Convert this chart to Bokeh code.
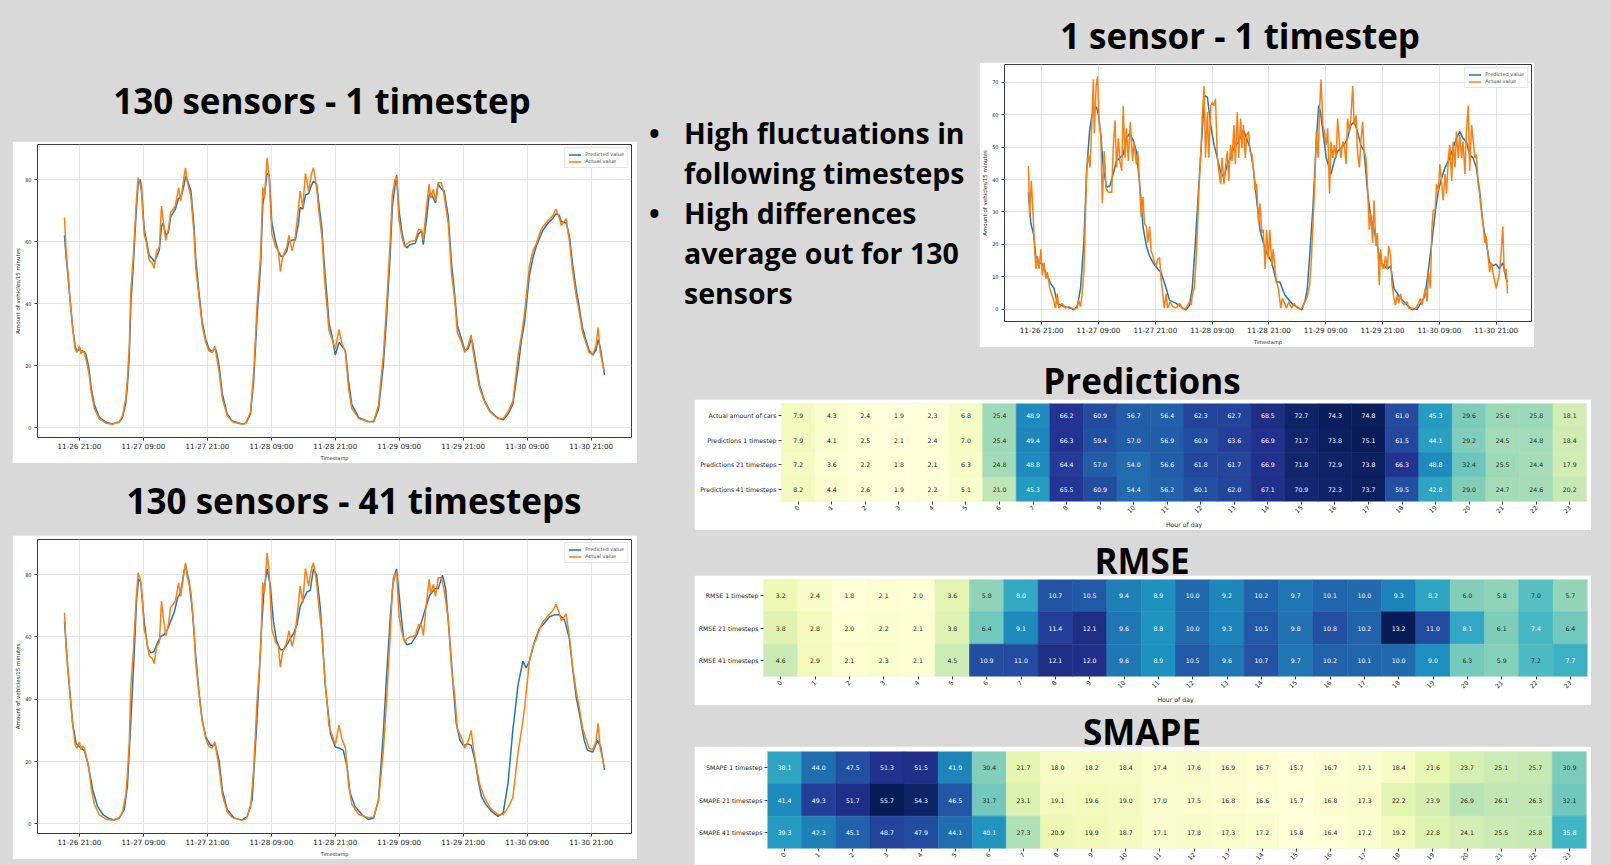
import numpy as np
import pandas as pd
from bokeh.plotting import figure
from bokeh.layouts import row, column
from bokeh.models import (Div, Spacer, FixedTicker, SingleIntervalTicker, DatetimeTickFormatter,
                          ColumnDataSource, LinearColorMapper, FactorRange)
from bokeh.transform import transform
from bokeh.core.properties import value
from bokeh.palettes import YlGnBu9
from bokeh.embed import file_html
from bokeh.resources import INLINE

# ---------------------------------------------------------------- data
TS_BASE = "2022-11-26 21:00"          # hour offsets below are relative to this
X_TICK_LABELS = ["11-26 21:00", "11-27 09:00", "11-27 21:00", "11-28 09:00", "11-28 21:00",
                 "11-29 09:00", "11-29 21:00", "11-30 09:00", "11-30 21:00"]

# (hour offset, vehicles / 15 min) - mean over 130 sensors, actual value
ACTUAL_130 = [(-2.8, 67.8), (-2.5, 57), (-2.2, 51), (-1.9, 44.5), (-1.6, 38), (-1.25, 31.7), (-0.8, 25.4),
              (-0.5, 24.3), (0, 26.3), (0.3, 23.8), (0.6, 25), (0.9, 24.3), (1.25, 22), (1.75, 18), (2.2, 11.6),
              (2.8, 6.3), (3.7, 3), (5, 1.5), (6.2, 1.2), (7.5, 2), (8.1, 4), (8.7, 9.5), (9, 15.8), (9.35, 26.4),
              (9.65, 44.5), (10.1, 55), (10.6, 71), (11, 80.6), (11.4, 78.5), (11.65, 75.8), (12.15, 62.5),
              (12.5, 60), (13.1, 54), (13.7, 53), (14, 51.4), (14.5, 57), (15, 58.3), (15.4, 71.5), (15.7, 66.8),
              (16.2, 60.4), (16.7, 64), (17.1, 69.4), (18, 71.5), (18.6, 77.4), (19, 73), (19.6, 80.6),
              (19.9, 83.8), (20.2, 79.5), (20.9, 74.7), (21.5, 62.5), (21.8, 52), (22.4, 42.4), (23.05, 32.8),
              (23.7, 27.5), (24.3, 24.8), (24.9, 24.3), (25.4, 26.4), (25.7, 23.2), (26.2, 18), (26.8, 9.5),
              (27.7, 4), (28.7, 2), (30.5, 1.2), (31.2, 1.5), (32.1, 5.2), (32.7, 18), (33.3, 39), (34, 56),
              (34.4, 77.4), (34.7, 74), (35.2, 87), (35.6, 80.6), (36.1, 62.5), (36.8, 58.3), (37.3, 57.2),
              (37.7, 50.3), (38.1, 55), (38.9, 58.3), (39.3, 62), (39.9, 57), (40.5, 61.6), (41.1, 71),
              (41.4, 76.3), (41.9, 71), (42.4, 82), (43, 76.3), (43.5, 81.6), (43.9, 83.8), (44.5, 77.4),
              (44.9, 70), (45.5, 61.5), (45.8, 53), (46.1, 45.5), (46.5, 38), (46.8, 31.5), (47.4, 28.5),
              (48, 25.4), (48.7, 31.7), (49.2, 27.5), (49.9, 24.3), (50.5, 12.6), (51.1, 6.3), (52.4, 3),
              (54.2, 2), (55.2, 2.2), (56.1, 7.3), (57, 23.2), (57.6, 39), (58.3, 60.4), (58.7, 75.2), (59.2, 80),
              (59.5, 81), (59.95, 66.8), (60.5, 61.5), (61, 58.3), (61.4, 59.3), (62, 60), (63, 60.4), (63.6, 64),
              (64.2, 63.6), (64.5, 60.4), (65.1, 71), (65.6, 78.5), (65.9, 74), (66.4, 76.9), (66.8, 73),
              (67.3, 79), (67.9, 79), (68.4, 75.2), (69.2, 65.7), (69.8, 49.8), (70.4, 41.3), (70.9, 30.7),
              (71.7, 27.5), (72.3, 24.3), (72.9, 26.4), (73.5, 30), (73.8, 25.4), (74.5, 18), (75.1, 12.6),
              (76, 8.4), (77, 5.2), (78.5, 3), (79.5, 3), (80.4, 5.2), (81.3, 8.4), (82.3, 23.2), (82.9, 29.6),
              (83.5, 37), (84.4, 52), (85.1, 57.2), (85.7, 59.3), (86.3, 62.5), (86.9, 64.7), (87.9, 66.8),
              (88.8, 68.4), (89.4, 70.5), (90, 67.8), (90.4, 65.2), (91.3, 67.4), (91.9, 60.4), (92.5, 50.8),
              (93.2, 42.4), (93.8, 37), (94.4, 30.7), (95, 27.5), (95.6, 24.3), (96.3, 23.8), (96.9, 26.4),
              (97.3, 32.3), (97.7, 24.3), (98.1, 21), (98.5, 18)]

# mean over 130 sensors, predicted 1 timestep ahead
PRED_130_1 = [(-2.8, 62), (-2.5, 55), (-2.2, 50), (-1.9, 44), (-1.6, 38.5), (-1.25, 32), (-0.8, 26.5),
              (-0.5, 24.8), (0, 25.2), (0.3, 24.8), (0.6, 24.5), (0.9, 24.6), (1.25, 23.5), (1.75, 19.5),
              (2.2, 13), (2.8, 7.5), (3.7, 3.5), (5, 1.8), (6.2, 1.3), (7.5, 1.9), (8.1, 3.5), (8.7, 8), (9, 13.5),
              (9.35, 23), (9.65, 40), (10.1, 52), (10.6, 68), (11, 78.5), (11.4, 80), (11.65, 77.5), (12.15, 64),
              (12.5, 61), (13.1, 55.5), (13.7, 54.5), (14, 53.5), (14.5, 55), (15, 57.5), (15.4, 65), (15.7, 66),
              (16.2, 62), (16.7, 63), (17.1, 68), (18, 70.5), (18.6, 74), (19, 74), (19.6, 78), (19.9, 81),
              (20.2, 80), (20.9, 76.5), (21.5, 65), (21.8, 55), (22.4, 44), (23.05, 34), (23.7, 28.5),
              (24.3, 25.5), (24.9, 24.5), (25.4, 25.5), (25.7, 24.8), (26.2, 20), (26.8, 11), (27.7, 4.5),
              (28.7, 2.2), (30.5, 1.3), (31.2, 1.4), (32.1, 4.5), (32.7, 15.5), (33.3, 35), (34, 53), (34.4, 72),
              (34.7, 75), (35.2, 82), (35.6, 81.5), (36.1, 66), (36.8, 60), (37.3, 57), (37.7, 55.5), (38.1, 55),
              (38.9, 57), (39.3, 60), (39.9, 60.5), (40.5, 60.5), (41.1, 66), (41.4, 71), (41.9, 70.5),
              (42.4, 75), (43, 75.5), (43.5, 78), (43.9, 79.5), (44.5, 78.5), (44.9, 72.5), (45.5, 64),
              (45.8, 56), (46.1, 49), (46.5, 41), (46.8, 34), (47.4, 29.5), (48, 23.5), (48.7, 27.5),
              (49.2, 26.5), (49.9, 24.8), (50.5, 15), (51.1, 7.5), (52.4, 3.3), (54.2, 2.1), (55.2, 2), (56.1, 6),
              (57, 20), (57.6, 35), (58.3, 56), (58.7, 71), (59.2, 78), (59.5, 81.5), (59.95, 70), (60.5, 63),
              (61, 59), (61.4, 58), (62, 59), (63, 59.5), (63.6, 62.5), (64.2, 63.5), (64.5, 59), (65.1, 67),
              (65.6, 75), (65.9, 75.5), (66.4, 74), (66.8, 72.5), (67.3, 78.5), (67.9, 77), (68.4, 76.5),
              (69.2, 68), (69.8, 53), (70.4, 43), (70.9, 33), (71.7, 28.5), (72.3, 25), (72.9, 25.5),
              (73.5, 28.5), (73.8, 27), (74.5, 19.5), (75.1, 13.5), (76, 8.8), (77, 5.5), (78.5, 3.2),
              (79.5, 2.6), (80.4, 4.5), (81.3, 7.5), (82.3, 19.5), (82.9, 28), (83.5, 34), (84.4, 49), (85.1, 55),
              (85.7, 58.5), (86.3, 61), (86.9, 63.5), (87.9, 66), (88.8, 67.5), (89.4, 69), (90, 68.5),
              (90.4, 66.5), (91.3, 66), (91.9, 62), (92.5, 53), (93.2, 44.5), (93.8, 38.5), (94.4, 32),
              (95, 28.5), (95.6, 25), (96.3, 23.5), (96.9, 25), (97.3, 28.5), (97.7, 26), (98.1, 21.5), (98.5, 17)]

# mean over 130 sensors, predicted 41 timesteps ahead
PRED_130_41 = [(-2.8, 65), (-2.2, 50), (-1.25, 32), (-0.6, 25.7), (0, 24.7), (0.9, 23.6), (1.6, 19.4),
               (2.5, 10.9), (3.4, 5.6), (4.4, 3), (5.6, 1.7), (6.5, 1.2), (7.5, 1.9), (8.4, 4.6), (9, 12),
               (9.65, 33), (10.3, 55.4), (10.7, 71.3), (11.1, 78.7), (11.5, 77.6), (12.15, 65), (12.8, 56.5),
               (13.4, 54.9), (14, 55.4), (14.6, 58), (15.3, 60.2), (15.9, 60.7), (16.5, 62.3), (17.1, 65),
               (17.8, 68.1), (18.4, 72.4), (19, 74.5), (19.6, 80.8), (19.9, 83), (20.6, 77.6), (21.2, 68.1),
               (21.8, 54.3), (22.4, 42.7), (23.05, 33.2), (23.7, 27.9), (24.6, 25.2), (25.5, 25.2), (26.2, 20.4),
               (26.8, 10.9), (27.7, 4.6), (29, 1.9), (30.5, 1.2), (31.5, 2.4), (32.4, 7.7), (33.3, 33),
               (34.1, 60.7), (34.6, 74.5), (35.2, 81.9), (35.8, 76.6), (36.4, 65), (37, 58.6), (37.7, 55.9),
               (38.3, 55.9), (38.9, 57.5), (39.6, 59.6), (40.2, 61.2), (40.8, 63.9), (41.4, 69.7), (42.1, 72.4),
               (42.7, 74.5), (43.3, 75), (43.9, 81.9), (44.5, 79.8), (45.2, 69.2), (46.1, 44.8), (47.1, 28.9),
               (48, 24.7), (48.9, 24.2), (49.5, 23.6), (50.2, 18.3), (50.8, 9.8), (51.7, 5.6), (53, 3),
               (54.2, 1.4), (55.2, 1.9), (56.1, 7.7), (57, 28.9), (57.6, 46.9), (58.3, 66), (58.9, 78.7),
               (59.5, 81.9), (60.1, 71.3), (60.8, 59.6), (61.4, 57.5), (62.3, 58), (63.3, 60.7), (64.2, 65),
               (65.1, 70.2), (65.7, 73.4), (66.7, 75.5), (67.3, 75.5), (68.1, 79.8), (68.7, 75.5), (69.5, 58.6),
               (70.1, 44.8), (70.7, 32.1), (71.4, 26.8), (72, 25.2), (72.9, 25.7), (73.5, 25.2), (74.2, 20.4),
               (74.8, 14.1), (75.4, 8.8), (76.3, 6.1), (77.3, 4), (78.5, 2.4), (79.5, 3.5), (80.4, 13),
               (81.3, 30), (82.3, 44.8), (83.2, 52.2), (83.8, 50.1), (84.4, 52.2), (85.4, 58.6), (86.3, 62.8),
               (87.2, 64.4), (88.2, 66.5), (89.1, 67.1), (90, 67.1), (91, 65.5), (91.9, 59.6), (92.5, 50.1),
               (93.2, 40.6), (93.8, 35.3), (94.7, 26.8), (95.3, 23.6), (96.3, 23.1), (97.2, 26.8), (97.8, 24.7),
               (98.5, 17.3)]

# single sensor, actual value
ACTUAL_1S = [(-2.8, 44.2), (-2.55, 28.5), (-2.2, 39.6), (-1.8, 28.5), (-1.5, 18.5), (-1.2, 12.4), (-0.9, 16.4),
             (-0.55, 12.4), (-0.2, 18.5), (0.14, 10.4), (0.5, 14.4), (0.85, 9.4), (1.2, 11.4), (1.7, 6.4),
             (2.2, 4.3), (2.6, 2.3), (2.9, 0.3), (3.3, 4.8), (3.6, 0.3), (4.3, 1.8), (5, 0.3), (5.7, 0.8), (6.8, 0),
             (7.5, 0.3), (7.8, 2.8), (8.2, 0.8), (8.5, 4.3), (8.9, 11.4), (9.2, 26.5), (9.5, 43.7), (9.9, 47.7),
             (10.2, 43.7), (10.6, 57.8), (10.9, 70.9), (11.1, 54.3), (11.5, 68.9), (11.8, 71.9), (12.1, 58.8),
             (12.5, 52.7), (12.8, 32.6), (13.2, 48.7), (13.6, 37.1), (14.1, 36.1), (14.8, 36.1), (15.1, 49.7),
             (15.5, 58.3), (15.8, 43.7), (16.2, 52.7), (16.5, 45.7), (16.9, 42.7), (17.2, 62.8), (17.6, 46.7),
             (17.9, 55.8), (18.3, 45.7), (18.7, 57.8), (19.2, 45.7), (19.5, 51.7), (20, 44.7), (20.3, 48.7),
             (20.7, 37.6), (21, 28.5), (21.4, 34.6), (21.7, 26.5), (22.1, 25.5), (22.4, 20.5), (22.8, 25.5),
             (23.1, 18), (23.5, 16.4), (23.8, 14.4), (24.2, 13.4), (24.5, 15.4), (24.9, 15.9), (25.2, 9.4),
             (25.6, 4.3), (25.9, 0.3), (26.3, 4.8), (26.6, 0.3), (27.1, 2.3), (27.7, 0.8), (28.4, 0.3),
             (29.1, 1.8), (29.8, 0), (30.5, 0.3), (31.2, 2.3), (31.6, 1.3), (31.8, 4.3), (32.2, 6.4), (32.5, 12.4),
             (32.9, 24.5), (33.2, 36.6), (33.6, 47.7), (33.9, 58.8), (34.3, 68.9), (34.6, 46.7), (35, 60.8),
             (35.3, 46.7), (35.7, 62.8), (36, 63.8), (36.4, 62.8), (36.7, 64.9), (37.1, 46.7), (37.4, 42.7),
             (37.8, 38.6), (38.1, 46.7), (38.5, 38.6), (38.8, 43.7), (39.2, 48.7), (39.5, 39.6), (39.9, 50.7),
             (40.2, 45.7), (40.6, 56.8), (40.9, 44.7), (41.3, 60.8), (41.6, 46.7), (42, 58.8), (42.3, 49.7),
             (42.6, 56.8), (43, 46.7), (43.3, 53.8), (43.7, 54.8), (44, 48.7), (44.4, 47.7), (44.7, 43.7),
             (45.1, 36.6), (45.4, 38.6), (45.8, 26.5), (46.1, 32.6), (46.5, 23.5), (46.8, 24.5), (47.2, 12.4),
             (47.5, 24.5), (47.9, 15.4), (48.2, 24.5), (48.6, 13.4), (48.9, 18.5), (49.3, 12), (49.6, 8.4),
             (50, 6.4), (50.5, 0.3), (50.8, 3.3), (51.2, 2.3), (51.7, 0.3), (52.2, 2.3), (52.8, 0.3), (53.3, 1.8),
             (53.8, 0.8), (54.5, 0), (54.9, 0.3), (55.6, 2.3), (56.1, 3.8), (56.6, 7.4), (57, 16.4), (57.3, 26.5),
             (57.7, 39.6), (58, 54.8), (58.4, 46.7), (58.7, 61.8), (59, 70.9), (59.4, 56.8), (59.7, 54.8),
             (60.1, 50.7), (60.4, 55.8), (60.8, 35.6), (61.1, 51.7), (61.5, 46.7), (61.8, 50.7), (62.2, 46.7),
             (62.5, 58.8), (62.9, 50.7), (63.2, 46.7), (63.6, 51.7), (63.9, 50.7), (64.3, 44.7), (64.6, 58.8),
             (65, 54.8), (65.3, 58.8), (65.7, 68.9), (66, 56.8), (66.4, 59.8), (66.7, 48.7), (67.1, 43.7),
             (67.4, 51.7), (67.8, 57.8), (68.1, 48.7), (68.5, 46.7), (68.8, 38.6), (69.2, 24.5), (69.5, 29.6),
             (69.9, 20.5), (70.2, 33.6), (70.6, 19.5), (70.9, 23.5), (71.3, 7.4), (71.6, 18.5), (71.9, 13.4),
             (72.3, 12.4), (72.6, 16.4), (73, 12.4), (73.3, 19.5), (73.7, 16.4), (74, 7.4), (74.4, 3.3),
             (74.7, 1.3), (75.1, 4.3), (75.4, 1.8), (75.8, 4.8), (76.1, 2.3), (76.5, 1.3), (77.2, 2.3),
             (77.5, 0.3), (78.2, 0.3), (78.9, 0), (79.6, 1.8), (80, 3.3), (80.3, 1.3), (80.7, 3.8), (81, 6.4),
             (81.4, 2.3), (81.7, 11.4), (82.1, 6.4), (82.4, 24.5), (82.7, 30.6), (83.1, 30.6), (83.4, 38.6),
             (83.8, 36.6), (84.1, 44.7), (84.5, 38.6), (84.8, 33.6), (85.2, 41.7), (85.5, 35.6), (85.9, 46.7),
             (86.2, 50.7), (86.6, 39.6), (86.9, 51.7), (87.3, 43.7), (87.6, 54.8), (88, 46.7), (88.3, 53.8),
             (88.7, 46.7), (89, 51.7), (89.4, 41.7), (89.7, 54.8), (90.1, 62.8), (90.4, 42.7), (90.8, 56.8),
             (91.1, 52.7), (91.5, 46.7), (91.8, 47.7), (92.2, 38.6), (92.5, 35.6), (92.9, 29.6), (93.2, 26.5),
             (93.6, 20.5), (93.9, 22.5), (94.3, 16.4), (94.6, 11.4), (95, 14.4), (95.3, 11.4), (96, 6.4),
             (96.6, 10.4), (97, 16.4), (97.4, 25.5), (97.7, 11.4), (98.1, 12.4), (98.4, 4.8)]

# single sensor, predicted 1 timestep ahead
PRED_1S = [(-2.8, 36.1), (-2.3, 26.5), (-1.7, 23), (-1.25, 16.4), (-0.55, 14.4), (0.14, 13.9), (0.85, 11.4),
           (1.9, 7.9), (2.6, 6.4), (3.3, 1.8), (4.7, 0.8), (6.1, 0.3), (6.8, -0.2), (7.5, 0.8), (8.2, 6.4),
           (8.9, 20.5), (9.5, 42.7), (10.1, 54.8), (10.6, 59.8), (11.3, 62.3), (11.6, 62.3), (12, 59.8),
           (12.5, 53.8), (13, 43.7), (13.7, 37.6), (14.4, 38.1), (15.1, 41.7), (15.8, 45.7), (16.5, 46.7),
           (17.2, 47.7), (17.9, 52.7), (18.6, 54.3), (19.3, 52.2), (20, 48.7), (20.7, 38.6), (21.4, 25.5),
           (22.1, 19.5), (22.8, 16.4), (23.5, 14.4), (24.5, 12.4), (25.2, 11.4), (26.3, 6.4), (27, 2.8),
           (28.4, 1.8), (29.8, 0.3), (30.5, -0.2), (31.2, 1.3), (31.8, 6.4), (32.5, 21.5), (33.2, 38.6),
           (33.9, 54.8), (34.4, 65.9), (35, 65.4), (35.7, 56.8), (36.4, 50.7), (37.1, 46.7), (37.8, 42.2),
           (38.5, 40.6), (39.2, 44.7), (39.9, 46.7), (40.6, 49.7), (41.6, 51.7), (42.6, 55.3), (43.3, 52.7),
           (44, 49.7), (44.7, 43.7), (45.4, 33.6), (46.1, 24.5), (46.8, 20.5), (47.5, 17.5), (48.6, 14.4),
           (49.6, 8.4), (50.3, 8.4), (51.4, 4.3), (52.8, 1.8), (54.2, 0.3), (54.9, -0.2), (55.6, 2.3),
           (56.1, 6.4), (56.6, 16.4), (57.3, 31.6), (58, 51.7), (58.5, 62.8), (58.9, 60.8), (59.4, 54.8),
           (60.1, 46.7), (61.1, 41.7), (61.8, 45.7), (62.5, 48.7), (63.2, 49.7), (63.9, 50.7), (64.6, 52.7),
           (65.3, 56.8), (66, 57.8), (66.7, 54.8), (67.4, 50.7), (68.1, 48.7), (68.8, 36.6), (69.5, 28.5),
           (70.2, 24.5), (70.9, 19.5), (71.6, 14.4), (72.3, 13.4), (73, 12.4), (73.7, 13.4), (74.4, 6.4),
           (75.8, 3.3), (77.2, 1.3), (78.2, -0.2), (79.3, 0), (80.3, 2.3), (81, 4.3), (81.7, 12.4), (82.4, 20.5),
           (83.1, 29.6), (83.8, 36.6), (84.5, 40.6), (85.2, 43.7), (86.2, 46.7), (86.9, 49.7), (87.6, 52.7),
           (88.3, 54.8), (89, 52.7), (89.7, 51.7), (90.4, 47.7), (91.1, 46.7), (91.8, 43.7), (92.5, 36.6),
           (93.2, 26.5), (93.9, 20.5), (94.6, 14.4), (95.3, 13.4), (96, 13.9), (96.7, 12.4), (97.4, 14.4),
           (98.1, 9.4), (98.4, 8.4)]

HOURS = [str(h) for h in range(24)]

PRED_ROWS = ["Actual amount of cars", "Predictions 1 timestep", "Predictions 21 timesteps",
             "Predictions 41 timesteps"]
PRED_VALUES = [
    [7.9, 4.3, 2.4, 1.9, 2.3, 6.8, 25.4, 48.9, 66.2, 60.9, 56.7, 56.4, 62.3, 62.7, 68.5, 72.7, 74.3, 74.8, 61.0, 45.3, 29.6, 25.6, 25.8, 18.1],
    [7.9, 4.1, 2.5, 2.1, 2.4, 7.0, 25.4, 49.4, 66.3, 59.4, 57.0, 56.9, 60.9, 63.6, 66.9, 71.7, 73.8, 75.1, 61.5, 44.1, 29.2, 24.5, 24.8, 18.4],
    [7.2, 3.6, 2.2, 1.8, 2.1, 6.3, 24.8, 48.8, 64.4, 57.0, 54.0, 56.6, 61.8, 61.7, 66.9, 71.8, 72.9, 73.8, 66.3, 48.8, 32.4, 25.5, 24.4, 17.9],
    [8.2, 4.4, 2.6, 1.9, 2.2, 5.1, 21.0, 45.3, 65.5, 60.9, 54.4, 56.2, 60.1, 62.0, 67.1, 70.9, 72.3, 73.7, 59.5, 42.8, 29.0, 24.7, 24.6, 20.2],
]
RMSE_ROWS = ["RMSE 1 timestep", "RMSE 21 timesteps", "RMSE 41 timesteps"]
RMSE_VALUES = [
    [3.2, 2.4, 1.8, 2.1, 2.0, 3.6, 5.8, 8.0, 10.7, 10.5, 9.4, 8.9, 10.0, 9.2, 10.2, 9.7, 10.1, 10.0, 9.3, 8.2, 6.0, 5.8, 7.0, 5.7],
    [3.8, 2.8, 2.0, 2.2, 2.1, 3.8, 6.4, 9.1, 11.4, 12.1, 9.6, 8.8, 10.0, 9.3, 10.5, 9.8, 10.8, 10.2, 13.2, 11.0, 8.1, 6.1, 7.4, 6.4],
    [4.6, 2.9, 2.1, 2.3, 2.1, 4.5, 10.9, 11.0, 12.1, 12.0, 9.6, 8.9, 10.5, 9.6, 10.7, 9.7, 10.2, 10.1, 10.0, 9.0, 6.3, 5.9, 7.2, 7.7],
]
SMAPE_ROWS = ["SMAPE 1 timestep", "SMAPE 21 timesteps", "SMAPE 41 timesteps"]
SMAPE_VALUES = [
    [38.1, 44.0, 47.5, 51.3, 51.5, 41.9, 30.4, 21.7, 18.0, 18.2, 18.4, 17.4, 17.6, 16.9, 16.7, 15.7, 16.7, 17.1, 18.4, 21.6, 23.7, 25.1, 25.7, 30.9],
    [41.4, 49.3, 51.7, 55.7, 54.3, 46.5, 31.7, 23.1, 19.1, 19.6, 19.0, 17.0, 17.5, 16.8, 16.6, 15.7, 16.8, 17.3, 22.2, 23.9, 26.9, 26.1, 26.3, 32.1],
    [39.3, 42.3, 45.1, 48.7, 47.9, 44.1, 40.1, 27.3, 20.9, 19.9, 18.7, 17.1, 17.8, 17.3, 17.2, 15.8, 16.4, 17.2, 19.2, 22.8, 24.1, 25.5, 25.8, 35.8],
]

# ---------------------------------------------------------------- styles
BG = "#d9d9d9"
BLUE, ORANGE = "#1f77b4", "#ff7f0e"
TICK_FONT = "DejaVu Sans"
TITLE_FONT = "Open Sans"


def to_time(hours):
    return (pd.Timestamp(TS_BASE) + pd.to_timedelta(np.asarray(hours, dtype=float), unit="h")).to_numpy()


def series_source(pairs):
    h, v = zip(*pairs)
    return ColumnDataSource(dict(t=to_time(h), v=list(v)))


def line_chart(width, height, borders, pred, actual, y_interval):
    left, right, top, bottom = borders
    p = figure(width=width, height=height, x_axis_type="datetime", output_backend="svg",
               toolbar_location=None, min_border_left=left, min_border_right=right,
               min_border_top=top, min_border_bottom=bottom)
    p.line("t", "v", source=series_source(pred), color=BLUE, line_width=1.5, legend_label="Predicted value")
    p.line("t", "v", source=series_source(actual), color=ORANGE, line_width=1.5, legend_label="Actual value")
    p.background_fill_color = "white"
    p.border_fill_color = "white"
    p.outline_line_color = "#3a3a3a"
    p.outline_line_width = 1
    p.grid.grid_line_color = "#e6e6e6"
    p.grid.grid_line_width = 1

    tick_ms = [pd.Timestamp("2022-" + lab).value / 1e6 for lab in X_TICK_LABELS]
    fmt = "%m-%d %H:%M"
    p.xaxis.ticker = FixedTicker(ticks=tick_ms)
    p.xaxis.formatter = DatetimeTickFormatter(hours=fmt, hourmin=fmt, days=fmt, months=fmt, minutes=fmt)
    p.xaxis.axis_label = "Timestamp"
    p.yaxis.ticker = SingleIntervalTicker(interval=y_interval)
    p.yaxis.axis_label = "Amount of vehicles/15 minutes"
    for ax in (p.xaxis, p.yaxis):
        ax.axis_line_color = None
        ax.major_tick_in = 0
        ax.major_tick_out = 3
        ax.minor_tick_line_color = None
        ax.major_tick_line_color = "#3a3a3a"
        ax.major_label_text_font = TICK_FONT
        ax.major_label_text_color = "#222222"
        ax.axis_label_text_font = TICK_FONT
        ax.axis_label_text_font_style = "normal"
        ax.axis_label_text_color = "#222222"
        ax.axis_label_text_font_size = "5px"
        ax.axis_label_standoff = 1
    p.xaxis.major_label_text_font_size = "7.2px"
    p.xaxis.major_label_standoff = 1
    p.yaxis.major_label_text_font_size = "5px"
    p.yaxis.major_label_standoff = 2
    p.yaxis.axis_label_text_font_size = "5.5px"

    lg = p.legend[0]
    lg.location = "top_right"
    lg.margin = 3
    lg.padding = 3
    lg.spacing = 1
    lg.label_text_font = TICK_FONT
    lg.label_text_font_size = "5px"
    lg.label_height = 5
    lg.glyph_height = 5
    lg.glyph_width = 13
    lg.label_standoff = 4
    lg.border_line_color = "#cccccc"
    lg.background_fill_alpha = 0.85
    return p


# YlGnBu continuous palette (light -> dark)
def _rgb(h):
    return tuple(int(h[i:i + 2], 16) for i in (1, 3, 5))


_BASE = [_rgb(c) for c in YlGnBu9[::-1]]
PALETTE = []
for i in range(256):
    t = i / 255 * 8
    k = min(int(t), 7)
    f = t - k
    PALETTE.append("#%02x%02x%02x" % tuple(round(_BASE[k][j] * (1 - f) + _BASE[k + 1][j] * f) for j in range(3)))


def _text_color(val, lo, hi):
    c = _rgb(PALETTE[int(round((val - lo) / (hi - lo) * 255))])
    rgb = np.array(c) / 255.0
    rgb = np.where(rgb <= 0.03928, rgb / 12.92, ((rgb + 0.055) / 1.055) ** 2.4)
    lum = float(rgb.dot([0.2126, 0.7152, 0.0722]))
    return "#262626" if lum > 0.408 else "white"


def heatmap(rows, values, width, height, borders, axis_label=True):
    left, right, top, bottom = borders
    lo = min(min(r) for r in values)
    hi = max(max(r) for r in values)
    xs, ys, vs, labels, tcols = [], [], [], [], []
    for rname, rvals in zip(rows, values):
        for h, v in zip(HOURS, rvals):
            xs.append(h)
            ys.append(rname)
            vs.append(v)
            labels.append(f"{v:.1f}")
            tcols.append(_text_color(v, lo, hi))
    src = ColumnDataSource(dict(x=xs, y=ys, v=vs, label=labels, tc=tcols))
    mapper = LinearColorMapper(palette=PALETTE, low=lo, high=hi)
    p = figure(width=width, height=height, x_range=FactorRange(*HOURS), y_range=FactorRange(*rows[::-1]),
               output_backend="svg", toolbar_location=None, min_border_left=left, min_border_right=right,
               min_border_top=top, min_border_bottom=bottom)
    p.rect("x", "y", width=1, height=1, source=src, fill_color=transform("v", mapper),
           line_color=transform("v", mapper), line_width=0.6)
    p.text("x", "y", text="label", source=src, text_align="center", text_baseline="middle",
           text_font_size="6.2px", text_color="tc", text_font=value(TICK_FONT))
    p.outline_line_color = None
    p.grid.grid_line_color = None
    p.border_fill_color = "white"
    if axis_label:
        p.xaxis.axis_label = "Hour of day"
    for ax in (p.xaxis, p.yaxis):
        ax.axis_line_color = None
        ax.major_tick_in = 0
        ax.major_tick_out = 3
        ax.major_tick_line_color = "#444444"
        ax.minor_tick_line_color = None
        ax.major_label_text_font = TICK_FONT
        ax.major_label_text_font_size = "6.2px"
        ax.major_label_text_color = "#262626"
        ax.major_label_standoff = 2
        ax.axis_label_text_font = TICK_FONT
        ax.axis_label_text_font_style = "normal"
        ax.axis_label_text_font_size = "6.2px"
        ax.axis_label_text_color = "#262626"
        ax.axis_label_standoff = 2
    p.xaxis.major_label_orientation = np.pi / 4
    return p


def title_div(text, w, h, cx, cy, size=35):
    html = (f'<div style="position:relative;left:{cx}px;top:{cy}px;transform:translate(-50%,-50%);'
            f'width:max-content;white-space:nowrap;font-family:\'{TITLE_FONT}\';font-weight:700;'
            f'font-size:{size}px;line-height:1;color:#000">{text}</div>')
    return Div(text=html, width=w, height=h, margin=0)


def bullets_div(items, w, h, top):
    parts = []
    for it in items:
        parts.append(f'<div style="display:flex"><div style="width:35px;margin-left:12px;flex:none">&#8226;</div>'
                     f'<div style="white-space:nowrap">{it}</div></div>')
    html = (f'<div style="padding-top:{top}px;font-family:\'{TITLE_FONT}\';font-weight:700;font-size:28.5px;'
            f'line-height:40px;color:#000">' + "".join(parts) + '</div>')
    return Div(text=html, width=w, height=h, margin=0)


# ---------------------------------------------------------------- build
fig1 = line_chart(625, 322, (23, 6, 3, 23), PRED_130_1, ACTUAL_130, 20)
fig2 = line_chart(625, 324, (23, 6, 4, 23), PRED_130_41, ACTUAL_130, 20)
fig3 = line_chart(555, 285, (20, 3, 2, 19), PRED_1S, ACTUAL_1S, 10)

hm1 = heatmap(PRED_ROWS, PRED_VALUES, 897, 131, (87, 5, 4, 28))
hm2 = heatmap(RMSE_ROWS, RMSE_VALUES, 897, 130, (69, 4, 4, 27))
hm3 = heatmap(SMAPE_ROWS, SMAPE_VALUES, 897, 119, (73, 5, 5, 16), axis_label=False)

left_col = column(
    title_div("130 sensors - 1 timestep", 625, 141, 310, 100),
    fig1,
    title_div("130 sensors - 41 timesteps", 625, 72, 342, 37),
    fig2,
    Spacer(width=625, height=6),
)

bullets = bullets_div(["High fluctuations in<br>following timesteps",
                       "High differences<br>average out for 130<br>sensors"], 342, 347, 113)

right_col = column(
    row(bullets, column(title_div("1 sensor - 1 timestep", 555, 62, 261, 35), fig3)),
    title_div("Predictions", 974, 52, 505, 33),
    row(Spacer(width=57, height=131), hm1),
    title_div("RMSE", 974, 45, 505, 30),
    row(Spacer(width=57, height=130), hm2),
    title_div("SMAPE", 974, 41, 505, 26),
    row(Spacer(width=57, height=119), hm3),
)

p = row(Spacer(width=12, height=865), left_col, right_col, styles={"background-color": BG})

open("out.html", "w").write(file_html(p, INLINE))
